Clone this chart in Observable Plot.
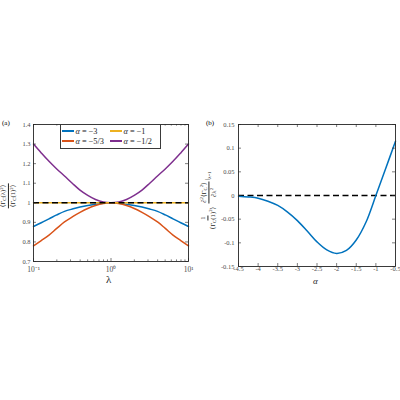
<!DOCTYPE html>
<html><head><meta charset="utf-8">
<script src="https://cdn.jsdelivr.net/npm/d3@7"></script>
<script src="https://cdn.jsdelivr.net/npm/@observablehq/plot@0.6"></script>
<style>
body{margin:0;background:#fff;}
#root{position:relative;width:400px;height:400px;font-family:"Liberation Serif","DejaVu Serif",serif;color:#262626;overflow:hidden;}
#root svg{position:absolute;top:0;overflow:visible;}
.abs{position:absolute;white-space:nowrap;}
.frac{display:inline-flex;flex-direction:column;align-items:center;vertical-align:middle;}
.frac .num{border-bottom:0.6px solid #262626;padding:0 1px;line-height:1.1;}
.frac .den{line-height:1.1;padding:0 1px;}
.sub{font-size:70%;vertical-align:-0.25em;}
.sup{font-size:70%;vertical-align:0.45em;}
.leg{position:absolute;border:1.2px solid #3a3a3a;background:#fff;font-size:8.3px;}
.leg .row{position:absolute;display:flex;align-items:center;white-space:nowrap;}
.leg .ln{display:inline-block;width:12px;height:1.6px;margin-right:1.5px;}
</style></head>
<body><div id="root"></div>
<script>
// ---- data: panel (a) ----
const lambdas = [0.1, 0.1259, 0.1585, 0.1995, 0.2512, 0.3162, 0.3981, 0.5012, 0.631, 0.7943, 1,
                 1.259, 1.585, 1.995, 2.512, 3.162, 3.981, 5.012, 6.31, 7.943, 10];
const vA3   = [0.879, 0.898, 0.918, 0.938, 0.956, 0.968, 0.978, 0.986, 0.992, 0.997, 1.0,
               0.997, 0.992, 0.986, 0.978, 0.968, 0.956, 0.938, 0.918, 0.898, 0.879];
const vA53  = [0.780, 0.807, 0.835, 0.869, 0.902, 0.928, 0.951, 0.971, 0.986, 0.996, 1.0,
               0.996, 0.986, 0.971, 0.951, 0.928, 0.902, 0.869, 0.835, 0.807, 0.780];
const vA1   = [1, 1, 1, 1, 1, 1, 1, 1, 1, 1, 1, 1, 1, 1, 1, 1, 1, 1, 1, 1, 1];
const vA12  = [1.300, 1.255, 1.212, 1.173, 1.137, 1.100, 1.065, 1.038, 1.017, 1.004, 1.0,
               1.004, 1.017, 1.038, 1.065, 1.100, 1.137, 1.173, 1.212, 1.255, 1.300];
const seriesNames = ["α = −3", "α = −1", "α = −5/3", "α = −1/2"];
const seriesColors = ["#0072BD", "#EDB120", "#D95319", "#7E2F8E"];
const xMajorA = [0.1, 1, 10];
const xMajorLabelsA = ["10⁻¹", "10⁰", "10¹"];
const xMinorA = [0.2,0.3,0.4,0.5,0.6,0.7,0.8,0.9,2,3,4,5,6,7,8,9];
const yTicksA = [0.7,0.8,0.9,1,1.1,1.2,1.3,1.4];
const yLabelsA = ["0.7","0.8","0.9","1","1.1","1.2","1.3","1.4"];
// ---- data: panel (b) ----
const alphas = [-4.5,-4.25,-4,-3.75,-3.5,-3.25,-3,-2.75,-2.5,-2.25,-2,-1.75,-1.5,-1.25,-1,-0.75,-0.5];
const dvals  = [-0.0014,-0.003,-0.0056,-0.012,-0.021,-0.035,-0.053,-0.075,-0.098,-0.115,-0.1224,-0.116,-0.094,-0.056,0,0.057,0.1147];
const xTicksB = [-4.5,-4,-3.5,-3,-2.5,-2,-1.5,-1,-0.5];
const xLabelsB = ["-4.5","-4","-3.5","-3","-2.5","-2","-1.5","-1","-0.5"];
const yTicksB = [-0.15,-0.1,-0.05,0,0.05,0.1,0.15];
const yLabelsB = ["-0.15","-0.1","-0.05","0","0.05","0.1","0.15"];

const root = document.getElementById("root");
const axisColor = "#262626";
const tickLabelColor = "#4d4d4d";
const style = {fontFamily:'"Liberation Serif", serif', fontSize:"6.5px", color:tickLabelColor, background:"transparent", overflow:"visible"};

function ticks(xMajor, xMinor, yMajor, pw, ph){
  const L = 3, l = 1.6;
  return [
    Plot.ruleX(xMajor, {x:d=>d, insetTop: ph - L, stroke:axisColor, strokeWidth:0.6}),
    Plot.ruleX(xMajor, {x:d=>d, insetBottom: ph - L, stroke:axisColor, strokeWidth:0.6}),
    Plot.ruleX(xMinor, {x:d=>d, insetTop: ph - l, stroke:axisColor, strokeWidth:0.6}),
    Plot.ruleX(xMinor, {x:d=>d, insetBottom: ph - l, stroke:axisColor, strokeWidth:0.6}),
    Plot.ruleY(yMajor, {y:d=>d, insetRight: pw - L, stroke:axisColor, strokeWidth:0.6}),
    Plot.ruleY(yMajor, {y:d=>d, insetLeft: pw - L, stroke:axisColor, strokeWidth:0.6}),
  ];
}

// Panel (a)
const rowsA = [];
[vA3, vA1, vA53, vA12].forEach((arr, k) => arr.forEach((v, i) => rowsA.push({lambda: lambdas[i], v, s: seriesNames[k]})));
const drawOrder = ["α = −3", "α = −5/3", "α = −1/2", "α = −1"];
const pa = Plot.plot({
  width: 200, height: 400,
  marginLeft: 33, marginRight: 12, marginTop: 124, marginBottom: 139,
  style,
  x: {type:"log", domain:[0.1,10], label:null, axis:null},
  y: {domain:[0.7,1.4], label:null, axis:null},
  color: {domain: seriesNames, range: seriesColors},
  marks: [
    ...drawOrder.map(s => Plot.line(rowsA.filter(r => r.s === s), {x:"lambda", y:"v", stroke:"s", strokeWidth:1.5, curve:"catmull-rom"})),
    Plot.ruleY([1], {stroke:"black", strokeWidth:1.5, strokeDasharray:"6,3.5"}),
    Plot.text(xMajorA, {x:d=>d, text:(d,i)=>xMajorLabelsA[i], frameAnchor:"bottom", dy:10, fontSize:7.5, fill:tickLabelColor}),
    Plot.text(yTicksA, {y:d=>d, text:(d,i)=>yLabelsA[i], frameAnchor:"left", dx:-3, textAnchor:"end", fill:tickLabelColor}),
    ...ticks(xMajorA, xMinorA, yTicksA, 155, 137),
    Plot.frame({stroke:axisColor, strokeWidth:0.9})
  ]
});
pa.style.left = "0px";
root.appendChild(pa);

// Panel (b)
const rowsB = alphas.map((a, i) => ({a, v: dvals[i]}));
const pb = Plot.plot({
  width: 200, height: 400,
  marginLeft: 38, marginRight: 5, marginTop: 124, marginBottom: 134,
  style,
  x: {domain:[-4.5,-0.5], label:null, axis:null},
  y: {domain:[-0.15,0.15], label:null, axis:null},
  marks: [
    Plot.ruleY([0], {stroke:"black", strokeWidth:1.5, strokeDasharray:"6,3.5"}),
    Plot.line(rowsB, {x:"a", y:"v", stroke:"#0072BD", strokeWidth:1.5, curve:"catmull-rom"}),
    Plot.text(xTicksB, {x:d=>d, text:(d,i)=>xLabelsB[i], frameAnchor:"bottom", dy:4.5, fill:tickLabelColor}),
    Plot.text(yTicksB, {y:d=>d, text:(d,i)=>yLabelsB[i], frameAnchor:"left", dx:-4, textAnchor:"end", fill:tickLabelColor}),
    ...ticks(xTicksB, [], yTicksB, 157, 142),
    Plot.frame({stroke:axisColor, strokeWidth:0.9})
  ]
});
pb.style.left = "200px";
root.appendChild(pb);

// Text overlays
function add(html, css){ const d = document.createElement("div"); d.className = "abs"; d.innerHTML = html; Object.assign(d.style, css); root.appendChild(d); return d; }
add("(a)", {left:"2px", top:"119px", fontSize:"7px", color:"#000"});
add("(b)", {left:"206px", top:"119px", fontSize:"7px", color:"#000"});
add("λ", {left:"106px", top:"273px", fontSize:"11px"});
add("α", {left:"313px", top:"276px", fontSize:"9px", fontStyle:"italic"});

add('<span class="frac"><span class="num">⟨Γ<span class="sub">C</span>(λ)<span class="sup">2</span>⟩</span><span class="den">⟨Γ<span class="sub">C</span>(1)<span class="sup">2</span>⟩</span></span>',
  {left:"8px", top:"196px", fontSize:"6.8px", transform:"translate(-50%,-50%) rotate(-90deg)"});
add('<span class="frac"><span class="num">1</span><span class="den">⟨Γ<span class="sub">C</span>(1)<span class="sup">2</span>⟩</span></span>' +
  '<span class="frac" style="margin-left:2px"><span class="num">∂<span class="sup">2</span>⟨Γ<span class="sub">C</span><span class="sup">2</span>⟩</span><span class="den">∂λ<span class="sup">2</span></span></span>' +
  '<span style="vertical-align:middle;margin-left:1px">|<span class="sub">λ=1</span></span>',
  {left:"208px", top:"201px", fontSize:"6.8px", transform:"translate(-50%,-50%) rotate(-90deg)"});

// Legend
const leg = document.createElement("div");
leg.className = "leg";
Object.assign(leg.style, {left:"60px", top:"124px", width:"99px", height:"23px"});
const pos = [[1,1.5],[49,1.5],[1,11.5],[49,11.5]];
seriesNames.forEach((s, i) => {
  const r = document.createElement("div");
  r.className = "row";
  Object.assign(r.style, {left: pos[i][0] + "px", top: pos[i][1] + "px", height:"9px"});
  r.innerHTML = '<span class="ln" style="background:' + seriesColors[i] + '"></span><span><i>α</i> = ' + s.split("= ")[1] + '</span>';
  leg.appendChild(r);
});
root.appendChild(leg);
</script></body></html>
